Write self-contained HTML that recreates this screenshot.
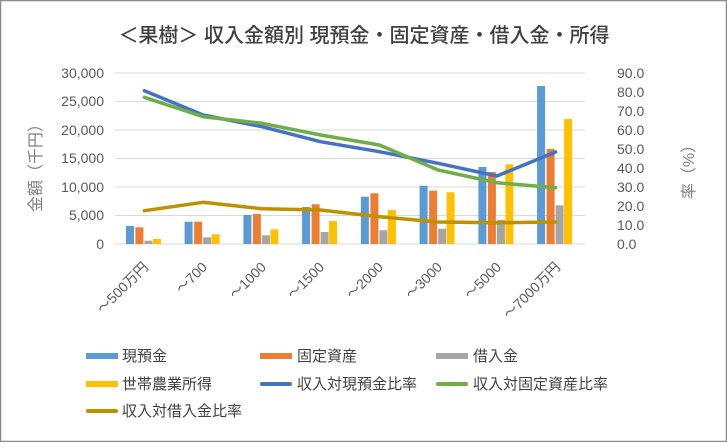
<!DOCTYPE html>
<html><head><meta charset="utf-8"><style>
html,body{margin:0;padding:0;background:#fff}
svg text{font-family:"Liberation Sans","Noto Sans CJK JP",sans-serif}
</style></head><body>
<svg width="727" height="442" viewBox="0 0 727 442" xmlns="http://www.w3.org/2000/svg">
<rect x="0.5" y="0.5" width="726" height="441" fill="#fff" stroke="#8a8a8a" stroke-width="1.5"/>
<text x="364" y="42" text-anchor="middle" font-size="20" fill="#404040" style="font-weight:500">＜果樹＞ 収入金額別 現預金・固定資産・借入金・所得</text>
<g stroke="#d9d9d9" stroke-width="1">
<line x1="115" x2="585" y1="73" y2="73"/><line x1="115" x2="585" y1="101.5" y2="101.5"/>
<line x1="115" x2="585" y1="130" y2="130"/><line x1="115" x2="585" y1="158.5" y2="158.5"/>
<line x1="115" x2="585" y1="187" y2="187"/><line x1="115" x2="585" y1="215.5" y2="215.5"/>
<line x1="115" x2="585" y1="244" y2="244"/>
</g>
<g font-size="14" fill="#595959" text-anchor="end">
<text x="104" y="78">30,000</text><text x="104" y="106">25,000</text><text x="104" y="135">20,000</text>
<text x="104" y="163">15,000</text><text x="104" y="192">10,000</text><text x="104" y="220">5,000</text><text x="104" y="249">0</text>
</g>
<g font-size="14" fill="#595959">
<text x="617" y="78">90.0</text><text x="617" y="97">80.0</text><text x="617" y="116">70.0</text>
<text x="617" y="135">60.0</text><text x="617" y="154">50.0</text><text x="617" y="173">40.0</text>
<text x="617" y="192">30.0</text><text x="617" y="211">20.0</text><text x="617" y="230">10.0</text><text x="617" y="249">0.0</text>
</g>
<text transform="translate(41,164) rotate(-90)" text-anchor="middle" font-size="16" fill="#7f7f7f">金額（千円）</text>
<text transform="translate(694,168) rotate(-90)" text-anchor="middle" font-size="16" fill="#7f7f7f">率（%）</text>
<g font-size="14" fill="#595959" text-anchor="end">
<text transform="translate(149,268) rotate(-45)">～500万円</text>
<text transform="translate(208,268) rotate(-45)">～700</text>
<text transform="translate(267,268) rotate(-45)">～1000</text>
<text transform="translate(325,268) rotate(-45)">～1500</text>
<text transform="translate(384,268) rotate(-45)">～2000</text>
<text transform="translate(443,268) rotate(-45)">～3000</text>
<text transform="translate(502,268) rotate(-45)">～5000</text>
<text transform="translate(561,268) rotate(-45)">～7000万円</text>
</g>
<g font-size="15" fill="#404040">
<rect x="86" y="353" width="32" height="6" fill="#5b9bd5"/><text x="122" y="361">現預金</text>
<rect x="260" y="353" width="32" height="6" fill="#ed7d31"/><text x="297" y="361">固定資産</text>
<rect x="436" y="353" width="32" height="6" fill="#a5a5a5"/><text x="473" y="361">借入金</text>
<rect x="86" y="381" width="32" height="6" fill="#ffc000"/><text x="122" y="389">世帯農業所得</text>
<rect x="260" y="382" width="32" height="4" rx="2" fill="#4472c4"/><text x="297" y="389">収入対現預金比率</text>
<rect x="436" y="382" width="32" height="4" rx="2" fill="#70ad47"/><text x="473" y="389">収入対固定資産比率</text>
<rect x="86" y="409" width="32" height="4" rx="2" fill="#bf9000"/><text x="122" y="416">収入対借入金比率</text>
</g>
<g>
<rect fill="#5b9bd5" x="126" y="226" width="8" height="18"/><rect fill="#ed7d31" x="135.4" y="227.3" width="8" height="16.7"/><rect fill="#a5a5a5" x="144.4" y="240.7" width="8" height="3.3"/><rect fill="#ffc000" x="152.9" y="239" width="8" height="5"/>
<rect fill="#5b9bd5" x="184.6" y="221.7" width="8" height="22.3"/><rect fill="#ed7d31" x="194.1" y="221.7" width="8" height="22.3"/><rect fill="#a5a5a5" x="203.1" y="237.3" width="8" height="6.7"/><rect fill="#ffc000" x="211.6" y="234.3" width="8" height="9.7"/>
<rect fill="#5b9bd5" x="243.4" y="215" width="8" height="29"/><rect fill="#ed7d31" x="252.9" y="214" width="8" height="30"/><rect fill="#a5a5a5" x="261.9" y="235.3" width="8" height="8.7"/><rect fill="#ffc000" x="270.4" y="229.3" width="8" height="14.7"/>
<rect fill="#5b9bd5" x="302.1" y="207" width="8" height="37"/><rect fill="#ed7d31" x="311.6" y="204.3" width="8" height="39.7"/><rect fill="#a5a5a5" x="320.6" y="232" width="8" height="12"/><rect fill="#ffc000" x="329.1" y="221" width="8" height="23"/>
<rect fill="#5b9bd5" x="360.9" y="196.7" width="8" height="47.3"/><rect fill="#ed7d31" x="370.4" y="193.3" width="8" height="50.7"/><rect fill="#a5a5a5" x="379.4" y="230.3" width="8" height="13.7"/><rect fill="#ffc000" x="387.9" y="210" width="8" height="34"/>
<rect fill="#5b9bd5" x="419.6" y="185.7" width="8" height="58.3"/><rect fill="#ed7d31" x="429.1" y="190.7" width="8" height="53.3"/><rect fill="#a5a5a5" x="438.1" y="228.7" width="8" height="15.3"/><rect fill="#ffc000" x="446.6" y="192.3" width="8" height="51.7"/>
<rect fill="#5b9bd5" x="478.4" y="167" width="8" height="77"/><rect fill="#ed7d31" x="487.9" y="172" width="8" height="72"/><rect fill="#a5a5a5" x="496.9" y="220" width="8" height="24"/><rect fill="#ffc000" x="505.4" y="164.3" width="8" height="79.7"/>
<rect fill="#5b9bd5" x="537.1" y="86" width="8" height="158"/><rect fill="#ed7d31" x="546.6" y="149" width="8" height="95"/><rect fill="#a5a5a5" x="555.6" y="205.3" width="8" height="38.7"/><rect fill="#ffc000" x="564.1" y="119" width="8" height="125"/>
</g>
<g fill="none" stroke-width="3.5" stroke-linejoin="round" stroke-linecap="round">
<polyline stroke="#4472c4" points="144.4,90.7 203.1,115 261.9,126.7 320.6,141.7 379.4,151.7 438.1,163.3 496.9,176 555.6,152"/>
<polyline stroke="#70ad47" points="144.4,97.3 203.1,116.7 261.9,123.3 320.6,135 379.4,145 438.1,170 496.9,182.7 555.6,187.7"/>
<polyline stroke="#bf9000" points="144.4,210.7 203.1,202.3 261.9,208.7 320.6,210 379.4,216.7 438.1,222 496.9,222.7 555.6,222"/>
</g>
</svg>
</body></html>
